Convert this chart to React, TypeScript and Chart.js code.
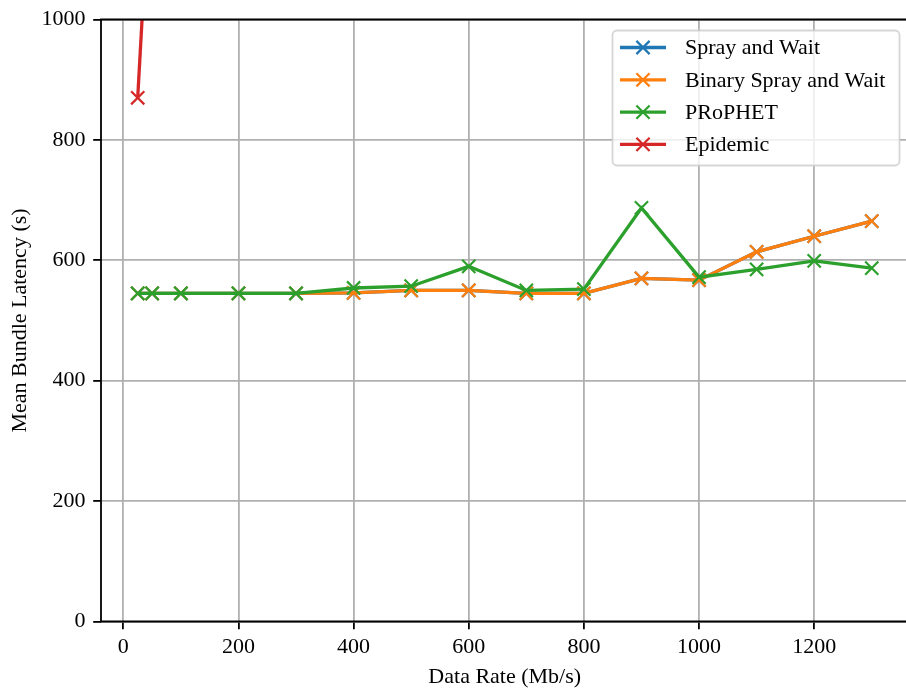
import React, { useEffect, useRef } from "react";
import { Chart, registerables } from "chart.js";

Chart.register(...registerables);

// ---- Data ----
const dataRates = [25, 50, 100, 200, 300, 400, 500, 600, 700, 800, 900, 1000, 1100, 1200, 1300];
const sprayAndWait = [545, 545, 545, 545, 545, 546, 550, 550, 545, 545, 570, 567, 614, 640, 665];
const binarySprayAndWait = [545, 545, 545, 545, 545, 546, 550, 550, 545, 545, 570, 567, 614, 640, 665];
const prophet = [545, 545, 545, 545, 545, 554, 557, 590, 550, 552, 687, 572, 585, 599, 587];
const epidemicRates = [25, 50];
const epidemic = [870, 1300];

const seriesNames = ["Spray and Wait", "Binary Spray and Wait", "PRoPHET", "Epidemic"];
const seriesColors = ["#1f77b4", "#ff7f0e", "#2ca02c", "#d62728"];

const xTicks = [0, 200, 400, 600, 800, 1000, 1200];
const yTicks = [0, 200, 400, 600, 800, 1000];

const xTitle = "Data Rate (Mb/s)";
const yTitle = "Mean Bundle Latency (s)";

const FONT = "'Liberation Serif', 'Times New Roman', Times, serif";
const FS = 22;
const MARKER_HALF = 6.6;

function pts(xs: number[], ys: number[]) {
  return xs.map((x, i) => ({ x, y: ys[i] }));
}

function drawCross(ctx: CanvasRenderingContext2D, x: number, y: number, r: number) {
  ctx.beginPath();
  ctx.moveTo(x - r, y - r);
  ctx.lineTo(x + r, y + r);
  ctx.moveTo(x - r, y + r);
  ctx.lineTo(x + r, y - r);
  ctx.stroke();
}

const framePlugin = {
  id: "mplFrame",
  afterDatasetsDraw(chart: any) {
    const { ctx, chartArea } = chart;
    const { left, right, top, bottom } = chartArea;
    ctx.save();
    ctx.strokeStyle = "#000";
    ctx.lineWidth = 1.8;
    ctx.lineCap = "square";
    ctx.beginPath();
    ctx.moveTo(left, bottom);
    ctx.lineTo(left, top);
    ctx.lineTo(right, top);
    ctx.lineTo(right, bottom);
    ctx.closePath();
    ctx.stroke();
    ctx.restore();
  },
};

const legendPlugin = {
  id: "mplLegend",
  afterDraw(chart: any) {
    const ctx: CanvasRenderingContext2D = chart.ctx;
    ctx.save();
    const x0 = 612.5, y0 = 30.5, w = 287, h = 135;
    ctx.beginPath();
    (ctx as any).roundRect(x0, y0, w, h, 4.5);
    ctx.fillStyle = "rgba(255,255,255,0.8)";
    ctx.fill();
    ctx.strokeStyle = "rgba(204,204,204,0.8)";
    ctx.lineWidth = 1.8;
    ctx.stroke();
    ctx.font = `${FS}px ${FONT}`;
    ctx.textBaseline = "middle";
    ctx.textAlign = "left";
    seriesNames.forEach((name, i) => {
      const y = 47.5 + i * 32.3;
      ctx.strokeStyle = seriesColors[i];
      ctx.lineWidth = 3.3;
      ctx.lineCap = "butt";
      ctx.beginPath();
      ctx.moveTo(620, y);
      ctx.lineTo(666, y);
      ctx.stroke();
      ctx.lineWidth = 2.2;
      drawCross(ctx, 643, y, MARKER_HALF);
      ctx.fillStyle = "#000";
      ctx.fillText(name, 685, y + 1);
    });
    ctx.restore();
  },
};

export default function App() {
  const ref = useRef<HTMLCanvasElement | null>(null);

  useEffect(() => {
    if (!ref.current) return;
    const radius = MARKER_HALF / Math.SQRT1_2;
    const mk = (label: string, data: any[], color: string, order: number) => ({
      label,
      data,
      borderColor: color,
      backgroundColor: color,
      pointBorderColor: color,
      borderWidth: 3.3,
      pointStyle: "crossRot",
      pointRadius: radius,
      pointBorderWidth: 2.2,
      pointHoverRadius: radius,
      tension: 0,
      order,
    });
    const datasets: any[] = [
      mk(seriesNames[0], pts(dataRates, sprayAndWait), seriesColors[0], 4),
      mk(seriesNames[1], pts(dataRates, binarySprayAndWait), seriesColors[1], 3),
      mk(seriesNames[2], pts(dataRates, prophet), seriesColors[2], 2),
      mk(seriesNames[3], pts(epidemicRates, epidemic), seriesColors[3], 1),
    ];

    const gridOpts = {
      color: "#b0b0b0",
      lineWidth: 1.8,
      drawTicks: true,
      tickLength: 7.8,
      tickColor: "#000",
      tickWidth: 1.8,
    };

    const chart = new Chart(ref.current, {
      type: "line",
      data: { datasets },
      plugins: [framePlugin, legendPlugin],
      options: {
        responsive: false,
        animation: false,
        devicePixelRatio: 1,
        layout: { padding: { top: 19.5, right: 9.4, left: 0, bottom: 0 } },
        plugins: { legend: { display: false }, tooltip: { enabled: false } },
        scales: {
          x: {
            type: "linear",
            min: -38.75,
            max: 1363.75,
            afterBuildTicks: (s: any) => {
              s.ticks = xTicks.map((v) => ({ value: v }));
            },
            afterFit: (s: any) => {
              s.height = 68.5;
              s.paddingLeft = 0;
              s.paddingRight = 0;
            },
            border: { display: false },
            grid: gridOpts,
            ticks: {
              color: "#000",
              font: { family: FONT, size: FS },
              padding: 5,
              maxRotation: 0,
              autoSkip: false,
              callback: (v: any) => String(v),
            },
            title: {
              display: true,
              text: xTitle,
              color: "#000",
              font: { family: FONT, size: FS, lineHeight: 1.2 },
              padding: { top: 0, bottom: 0 },
            },
          },
          y: {
            type: "linear",
            min: 0,
            max: 1000,
            afterBuildTicks: (s: any) => {
              s.ticks = yTicks.map((v) => ({ value: v }));
            },
            afterFit: (s: any) => {
              s.width = 101;
              s.paddingTop = 0;
              s.paddingBottom = 0;
            },
            border: { display: false },
            grid: gridOpts,
            ticks: {
              color: "#000",
              font: { family: FONT, size: FS },
              padding: 7.8,
              autoSkip: false,
              callback: (v: any) => String(v),
            },
            title: {
              display: true,
              text: yTitle,
              color: "#000",
              font: { family: FONT, size: FS, lineHeight: 1.2 },
              padding: { top: 6.8, bottom: 0 },
            },
          },
        },
      } as any,
    });
    return () => chart.destroy();
  }, []);

  return (
    <div
      style={{
        position: "fixed",
        left: 0,
        top: 0,
        width: 906,
        height: 690,
        overflow: "hidden",
        background: "#fff",
      }}
    >
      <canvas ref={ref} width={920} height={690} style={{ width: 920, height: 690, display: "block" }} />
    </div>
  );
}
